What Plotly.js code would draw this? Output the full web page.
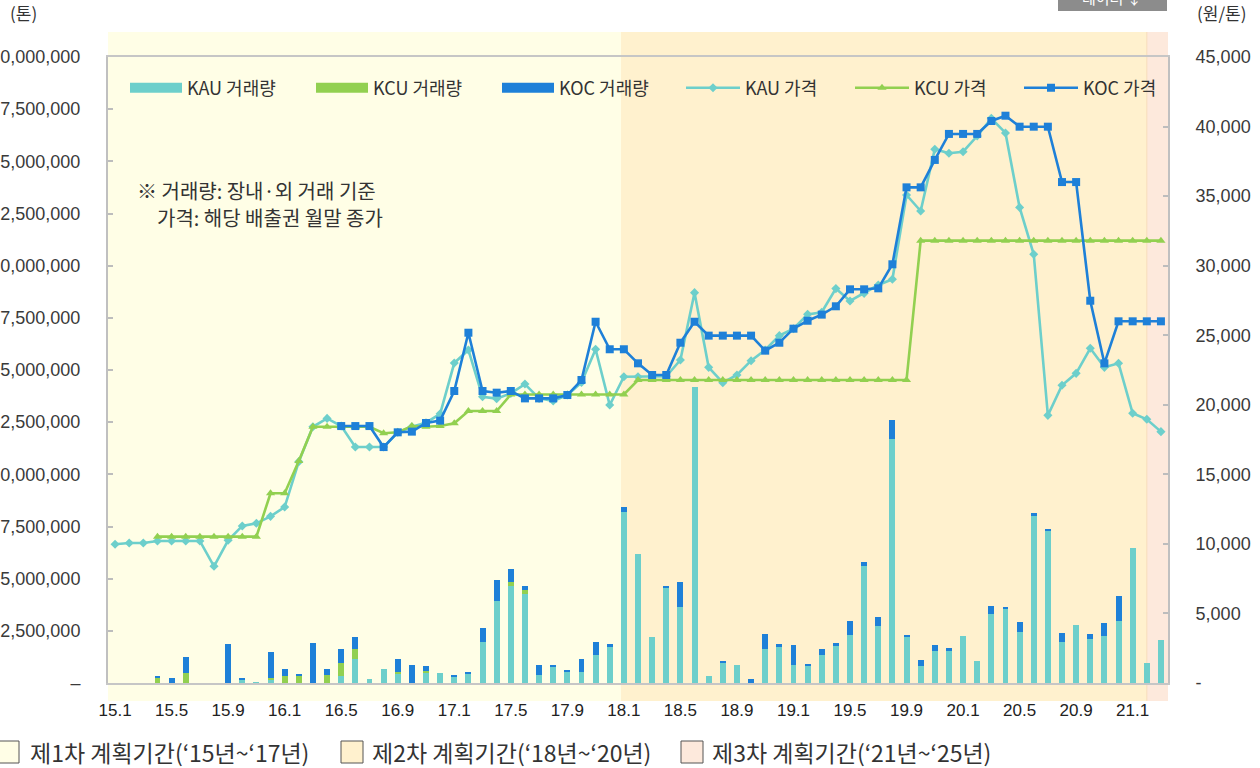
<!DOCTYPE html>
<html>
<head>
<meta charset="utf-8">
<script src="https://cdn.plot.ly/plotly-3.0.1.min.js"></script>
<style>
html,body{margin:0;padding:0;background:#ffffff;}
#chart{width:1260px;height:768px;}
</style>
</head>
<body>
<div id="chart"></div>
<script>
// ---------------- DATA ----------------
const months = [
 '15.1','15.2','15.3','15.4','15.5','15.6','15.7','15.8','15.9','15.10','15.11','15.12',
 '16.1','16.2','16.3','16.4','16.5','16.6','16.7','16.8','16.9','16.10','16.11','16.12',
 '17.1','17.2','17.3','17.4','17.5','17.6','17.7','17.8','17.9','17.10','17.11','17.12',
 '18.1','18.2','18.3','18.4','18.5','18.6','18.7','18.8','18.9','18.10','18.11','18.12',
 '19.1','19.2','19.3','19.4','19.5','19.6','19.7','19.8','19.9','19.10','19.11','19.12',
 '20.1','20.2','20.3','20.4','20.5','20.6','20.7','20.8','20.9','20.10','20.11','20.12',
 '21.1','21.2','21.3'
];
const tickMonths = ['15.1','15.5','15.9','16.1','16.5','16.9','17.1','17.5','17.9','18.1','18.5','18.9','19.1','19.5','19.9','20.1','20.5','20.9','21.1'];

// 거래량 (톤)
const kauVolume = [
 0,0,0,0,0,0,0,0,0,140000,40000,130000,
 0,0,0,0,350000,1130000,180000,670000,430000,0,510000,460000,
 300000,450000,1960000,3910000,4650000,4280000,370000,780000,570000,540000,1340000,1740000,
 8210000,6180000,2220000,4590000,3630000,14180000,340000,940000,860000,0,1630000,1730000,
 850000,850000,1360000,1820000,2300000,5610000,2730000,11680000,2210000,810000,1510000,1550000,
 2270000,1040000,3290000,3550000,2430000,8020000,7280000,1960000,2780000,2120000,2250000,2970000,
 6470000,960000,2060000
];
const kcuVolume = [
 0,0,0,250000,0,490000,0,0,0,0,0,130000,
 340000,350000,0,400000,590000,480000,0,0,100000,0,60000,0,
 0,0,0,0,190000,180000,0,0,0,0,0,0,
 0,0,0,0,0,0,0,0,0,0,0,0,
 0,0,0,0,0,0,0,0,0,0,0,0,
 0,0,0,0,0,0,0,0,0,0,0,0,
 0,0,0
];
const kocVolume = [
 0,0,0,100000,220000,770000,0,0,1870000,120000,0,1230000,
 330000,50000,1930000,270000,690000,610000,0,0,640000,860000,240000,0,
 40000,30000,670000,1020000,610000,190000,500000,60000,50000,590000,640000,130000,
 210000,0,0,60000,1210000,0,0,130000,0,180000,720000,140000,
 960000,80000,270000,80000,670000,210000,430000,920000,60000,290000,300000,130000,
 0,0,400000,60000,480000,110000,100000,430000,0,220000,610000,1210000,
 0,0,0
];

// 가격 (원/톤)
const kauPrice = [
 9970,10060,10060,10210,10210,10210,10210,8390,10260,11290,11480,11980,
 12650,15910,18420,19020,18470,16960,16960,16960,18020,18420,18710,19350,
 23000,23940,20580,20440,20820,21490,20460,20270,20700,21600,23990,19980,
 22020,22020,22050,22050,23220,28060,22690,21590,22140,23170,23940,24970,
 25470,26500,26650,28350,27460,28010,28610,29020,35080,33930,38370,38080,
 38190,39320,40590,39540,34190,30820,19240,21400,22260,24060,22690,22980,
 19390,18960,18070
];
const kcuPrice = [
 null,null,null,10520,10520,10520,10520,10520,10520,10520,10520,13640,
 13640,15960,18420,18420,18420,18420,18420,17950,18020,18470,18420,18470,
 18670,19550,19550,19550,20740,20740,20740,20740,20740,20740,20740,20740,
 20740,21780,21780,21780,21780,21780,21780,21780,21780,21780,21780,21780,
 21780,21780,21780,21780,21780,21780,21780,21780,21780,31800,31800,31800,
 31800,31800,31800,31800,31800,31800,31800,31800,31800,31800,31800,31800,
 31800,31800,31800
];
const kocPrice = [
 null,null,null,null,null,null,null,null,null,null,null,null,
 null,null,null,null,18470,18470,18470,16960,18020,18070,18690,18860,
 20990,25180,20990,20870,20990,20460,20460,20460,20700,21780,25970,23990,
 23990,22980,22140,22140,24460,25970,24970,24970,24970,24970,23890,24460,
 25470,26040,26480,27080,28300,28300,28370,30100,35630,35630,37600,39470,
 39470,39470,40400,40780,39990,39990,39990,36010,36010,27480,22980,26000,
 26000,26000,26000
];

const seriesNames = ['KAU 거래량','KCU 거래량','KOC 거래량','KAU 가격','KCU 가격','KOC 가격'];

const volumeTicks = [0,2500000,5000000,7500000,10000000,12500000,15000000,17500000,20000000,22500000,25000000,27500000,30000000];
const volumeTickText = ['–','2,500,000','5,000,000','7,500,000','10,000,000','12,500,000','15,000,000','17,500,000','20,000,000','22,500,000','25,000,000','27,500,000','30,000,000'];
const priceTicks = [0,5000,10000,15000,20000,25000,30000,35000,40000,45000];
const priceTickText = ['-','5,000','10,000','15,000','20,000','25,000','30,000','35,000','40,000','45,000'];

// 계획기간 (category index boundaries as drawn)
const periodLabels = ['제1차 계획기간(‘15년~‘17년)','제2차 계획기간(‘18년~‘20년)','제3차 계획기간(‘21년~‘25년)'];
const periodStart = [-0.5, 35.8, 73.0];
const periodEnd = [35.8, 73.0, 74.5];

// ---------------- STYLE ----------------
const C_KAU = '#6DCFCB', C_KCU = '#92D050', C_KOC = '#1E80D8';
const periodFill = ['#FFFEE6', '#FFF1CE', '#FDE9DC'];
const KR = "'Noto Sans CJK KR', 'Noto Sans', sans-serif";
const NUM = "'Liberation Sans', Arial, sans-serif";

const L = 108, T = 57, W = 1060, H = 626;
const px2x = p => (p - L) / W;
const px2y = p => (T + H - p) / H;

const volColors = [C_KAU, C_KCU, C_KOC];
const volData = [kauVolume, kcuVolume, kocVolume];
const priceColors = [C_KAU, C_KCU, C_KOC];
const priceData = [kauPrice, kcuPrice, kocPrice];
const priceSymbols = ['diamond', 'triangle-up', 'square'];
const priceSizes = [7, 8, 8];
const groups = ['kauv','kcuv','kocv'];

const traces = [];
volData.forEach((v, k) => {
  traces.push({
    type: 'bar', x: months, y: v, name: seriesNames[k], yaxis: 'y',
    marker: {color: volColors[k], line: {width: 0}},
    legendgroup: groups[k], showlegend: false,
    hovertemplate: '%{x}<br>' + seriesNames[k] + ': %{y:,}톤<extra></extra>'
  });
});
// legend swatches for the bar series (wide rectangles like the original)
volData.forEach((v, k) => {
  traces.push({
    type: 'scatter', mode: 'lines', x: [null], y: [null], name: seriesNames[k], yaxis: 'y',
    line: {color: volColors[k], width: 10}, legendgroup: groups[k], showlegend: true,
    legend: 'legend', hoverinfo: 'skip'
  });
});
priceData.forEach((p, k) => {
  traces.push({
    type: 'scatter', mode: 'lines+markers', x: months, y: p, name: seriesNames[k + 3], yaxis: 'y2',
    line: {color: priceColors[k], width: 2.6},
    marker: {symbol: priceSymbols[k], size: priceSizes[k], color: priceColors[k]},
    connectgaps: false, legend: 'legend2',
    hovertemplate: '%{x}<br>' + seriesNames[k + 3] + ': %{y:,}원<extra></extra>'
  });
});

const shapes = [];
periodStart.forEach((s, k) => {
  shapes.push({type: 'rect', xref: 'x', yref: 'paper', x0: s, x1: periodEnd[k],
    y0: px2y(701), y1: px2y(32), fillcolor: periodFill[k], line: {width: 0}, layer: 'below'});
});
shapes.push({type: 'line', xref: 'x', yref: 'paper', x0: periodStart[2], x1: periodStart[2],
  y0: px2y(701), y1: px2y(32), line: {color: '#F8DDB8', width: 1}, layer: 'below'});
// period legend boxes
const boxLeft = [-3, 341, 681];
boxLeft.forEach((b, k) => {
  shapes.push({type: 'rect', xref: 'paper', yref: 'paper', x0: px2x(b), x1: px2x(b + 22),
    y0: px2y(763), y1: px2y(741), fillcolor: periodFill[k], line: {color: '#555', width: 1}});
});
// data button (cut off at top)
shapes.push({type: 'rect', xref: 'paper', yref: 'paper', x0: px2x(1058), x1: px2x(1167),
  y0: px2y(11), y1: px2y(-10), fillcolor: '#8C8C8C', line: {width: 0}});

const annotations = [
  {text: '(톤)', x: px2x(23), y: px2y(13), xref: 'paper', yref: 'paper', showarrow: false,
   xanchor: 'center', yanchor: 'middle', font: {family: KR, size: 17, color: '#333'}},
  {text: '(원/톤)', x: px2x(1221), y: px2y(13), xref: 'paper', yref: 'paper', showarrow: false,
   xanchor: 'center', yanchor: 'middle', font: {family: KR, size: 17, color: '#333'}},
  {text: '※ 거래량: 장내·외 거래 기준', x: px2x(135), y: px2y(190), xref: 'paper', yref: 'paper', showarrow: false,
   xanchor: 'left', yanchor: 'middle', font: {family: KR, size: 20, color: '#333'}},
  {text: '가격: 해당 배출권 월말 종가', x: px2x(155), y: px2y(217), xref: 'paper', yref: 'paper', showarrow: false,
   xanchor: 'left', yanchor: 'middle', font: {family: KR, size: 20, color: '#333'}},
  {text: '데이터 ↓', x: px2x(1112), y: px2y(-3), xref: 'paper', yref: 'paper', showarrow: false,
   xanchor: 'center', yanchor: 'middle', font: {family: KR, size: 15, color: '#ffffff'}}
];
const textLeft = [28, 370, 710];
periodLabels.forEach((t, k) => {
  annotations.push({text: t, x: px2x(textLeft[k]), y: px2y(752), xref: 'paper', yref: 'paper', showarrow: false,
    xanchor: 'left', yanchor: 'middle', font: {family: KR, size: 23, color: '#333'}});
});

const axisTickFont = {family: NUM, size: 18, color: '#3a3a3a'};

const layout = {
  width: 1260, height: 768,
  margin: {l: L, r: 1260 - L - W, t: T, b: 768 - T - H, pad: 0},
  paper_bgcolor: '#ffffff', plot_bgcolor: 'rgba(0,0,0,0)',
  barmode: 'stack', bargap: 0.58,
  hovermode: 'closest',
  showlegend: true,
  legend: {orientation: 'h', x: px2x(125), xanchor: 'left', y: px2y(88), yanchor: 'middle',
    bgcolor: 'rgba(0,0,0,0)', borderwidth: 0, itemwidth: 52, entrywidth: 119, entrywidthmode: 'pixels',
    traceorder: 'normal', font: {family: KR, size: 18, color: '#333'}},
  legend2: {orientation: 'h', x: px2x(681), xanchor: 'left', y: px2y(88), yanchor: 'middle',
    bgcolor: 'rgba(0,0,0,0)', borderwidth: 0, itemwidth: 54, entrywidth: 100, entrywidthmode: 'pixels',
    traceorder: 'normal', font: {family: KR, size: 18, color: '#333'}},
  xaxis: {type: 'category', categoryorder: 'array', categoryarray: months, range: [-0.5, 74.5],
    tickmode: 'array', tickvals: tickMonths, ticktext: tickMonths, ticks: '',
    showline: true, linecolor: '#c6c6c6', linewidth: 2, mirror: true, showgrid: false, zeroline: false,
    tickfont: {family: NUM, size: 17, color: '#222'}, ticklabelstandoff: 11, fixedrange: true},
  yaxis: {range: [0, 30000000], tickmode: 'array', tickvals: volumeTicks, ticktext: volumeTickText,
    ticks: 'inside', ticklen: 5, tickcolor: '#bdbdbd', tickwidth: 1.5,
    showline: true, linecolor: '#c0c0c0', linewidth: 2, showgrid: false, zeroline: false,
    tickfont: axisTickFont, ticklabelstandoff: 22, fixedrange: true},
  yaxis2: {range: [0, 45000], overlaying: 'y', side: 'right', tickmode: 'array', tickvals: priceTicks, ticktext: priceTickText,
    ticks: 'inside', ticklen: 5, tickcolor: '#bdbdbd', tickwidth: 1.5,
    showline: true, linecolor: '#c0c0c0', linewidth: 2, showgrid: false, zeroline: false,
    tickfont: axisTickFont, ticklabelstandoff: 22, fixedrange: true},
  shapes: shapes,
  annotations: annotations
};

Plotly.newPlot('chart', traces, layout, {displayModeBar: false, responsive: false});
</script>
</body>
</html>
